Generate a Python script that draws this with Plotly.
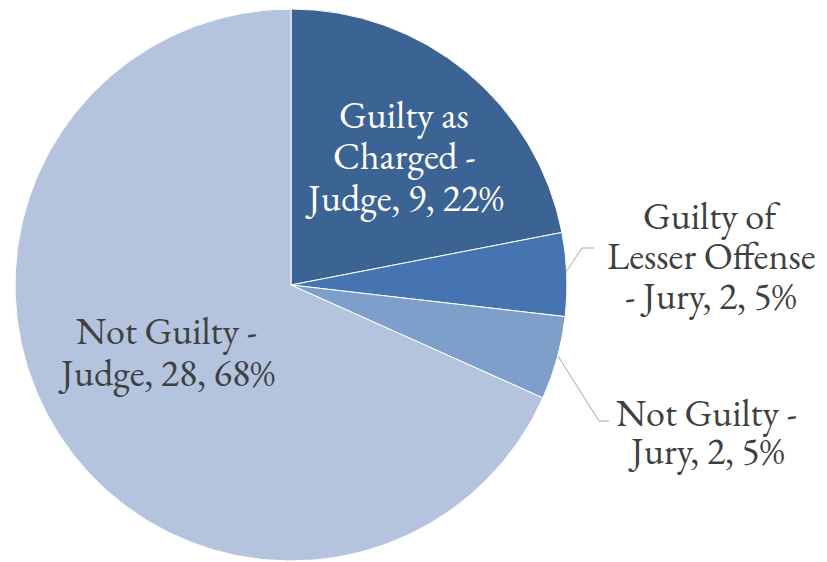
import plotly.graph_objects as go

categories = ["Guilty as Charged - Judge", "Guilty of Lesser Offense - Jury",
              "Not Guilty - Jury", "Not Guilty - Judge"]
values = [9, 2, 2, 28]
label_lines = [["Guilty as", "Charged -", "Judge, 9, 22%"],
               ["Guilty of", "Lesser Offense", "- Jury, 2, 5%"],
               ["Not Guilty -", "Jury, 2, 5%"],
               ["Not Guilty -", "Judge, 28, 68%"]]
colors = ["#3B6495", "#4674B0", "#7F9FCB", "#B4C4DE"]

OFF = 8  # default page body margin
W, H = 827 - OFF, 562 - OFF
def px(x): return (x - OFF) / W
def py(y): return 1 - (y - OFF) / H

fig = go.Figure(go.Pie(
    labels=categories, values=values, sort=False, direction="clockwise",
    rotation=0, marker=dict(colors=colors, line=dict(color="white", width=1)),
    textinfo="none", hoverinfo="label+value+percent",
    domain=dict(x=[px(15), px(567)], y=[py(561), py(9)]),
    showlegend=False,
))

font = "EB Garamond, Garamond, Liberation Serif, serif"
FS = 38
# (center x, list of baselines, colour)
label_pos = [(404, [127, 168, 210], "white"),
             (711, [228, 268, 308], "#404040"),
             (706, [425, 463], "#404040"),
             (166, [343, 385], "#404040")]
annotations = []
for lines, (x, bases, c) in zip(label_lines, label_pos):
    for line, b in zip(lines, bases):
        annotations.append(dict(x=px(x), y=py(b - 0.33 * FS), xref="paper", yref="paper",
                                text=line, showarrow=False, borderpad=0,
                                xanchor="center", yanchor="middle",
                                font=dict(family=font, size=FS, color=c)))

leader = dict(color="#A6A6A6", width=1)
shapes = [
    dict(type="path", xref="paper", yref="paper",
         path=f"M {px(566)} {py(272)} L {px(582)} {py(248)} L {px(594)} {py(248)}", line=leader),
    dict(type="path", xref="paper", yref="paper",
         path=f"M {px(558)} {py(356)} L {px(599)} {py(421)} L {px(609)} {py(421)}", line=leader),
]

fig.update_layout(width=W, height=H, margin=dict(l=0, r=0, t=0, b=0),
                  paper_bgcolor="white", plot_bgcolor="white",
                  annotations=annotations, shapes=shapes)
fig.write_html("out.html")
